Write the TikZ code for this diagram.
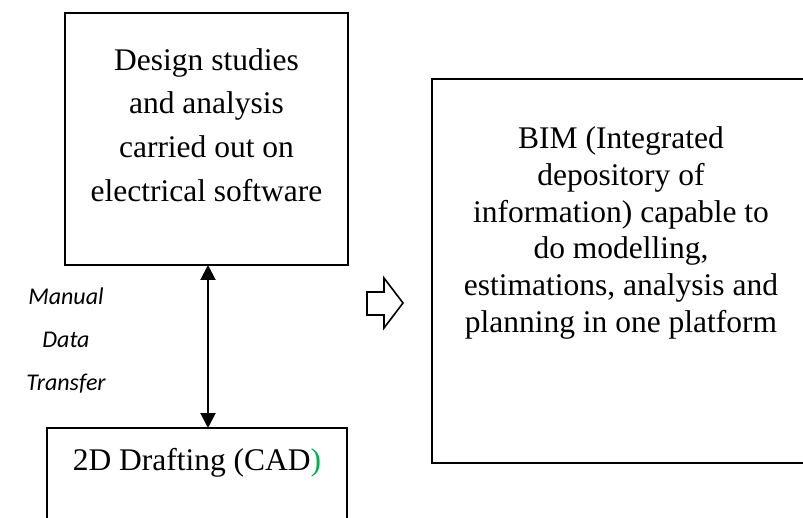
\documentclass[tikz,border=0pt]{standalone}
\usepackage{fontspec}
\setmainfont{Liberation Serif}
\newfontfamily\notefont{Carlito}
\usetikzlibrary{arrows.meta}
\definecolor{cadgreen}{HTML}{00B050}
\begin{document}
\begin{tikzpicture}[x=1pt,y=-1pt,
  frame/.style={draw=black,line width=2.6pt},
  boxtext/.style={inner sep=0pt,align=center,font=\fontsize{31.5}{43.7}\selectfont},
  bimtext/.style={inner sep=0pt,align=center,font=\fontsize{31.5}{36.7}\selectfont},
  note/.style={inner sep=0pt,align=center,font=\notefont\itshape\fontsize{24}{43}\selectfont},
  link/.style={line width=2pt,{Triangle[width=15pt,length=15pt]}-{Triangle[width=15pt,length=15pt]}},
  hollow/.style={draw=black,line width=1.6pt,fill=white,line join=miter}]
  \useasboundingbox (0,0) rectangle (803,518);
  \clip (0,0) rectangle (803,518);

  % design studies box
  \draw[frame] (65,13) rectangle (348,265);
  \coordinate (designbot) at (208,265);
  \node[boxtext] (design) at (206.5,125)
    {Design studies\\and analysis\\carried out on\\electrical software};

  % 2D drafting box, running past the lower edge
  \draw[frame] (47,428) rectangle (347,540);
  \coordinate (cadtop) at (208,428);
  \node[inner sep=0pt,anchor=base,font=\fontsize{31.5}{36}\selectfont] (cad) at (197,470)
    {2D Drafting (CAD\textcolor{cadgreen}{)}};

  % BIM box, running past the right edge
  \draw[frame] (432,79) rectangle (812,463);
  \node[bimtext] (bim) at (621,233)
    {BIM (Integrated\\depository of\\information) capable to\\do modelling,\\estimations, analysis and\\planning in one platform};

  % data transfer link
  \draw[link] (designbot) -- (cadtop);
  \node[note] (manual) at (66,341) {Manual\\Data\\Transfer};

  % hollow block arrow
  \draw[hollow] (367,292) -- (384,292) -- (384,278) -- (403,303)
    -- (384,328) -- (384,315) -- (367,315) -- cycle;
\end{tikzpicture}
\end{document}
